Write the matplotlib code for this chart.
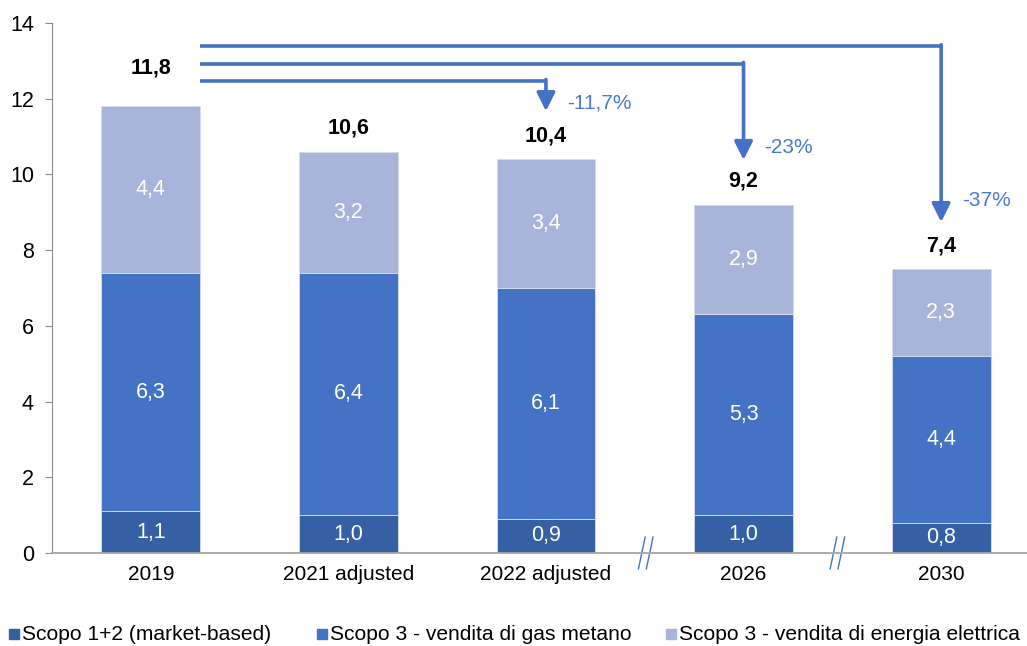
import numpy as np
import matplotlib.pyplot as plt
from matplotlib.patches import Rectangle
from matplotlib.lines import Line2D

plt.rcParams['font.family'] = ['Liberation Sans', 'DejaVu Sans']

# Emissions by scope (MtCO2e)
years = ['2019', '2021 adjusted', '2022 adjusted', '2026', '2030']
scope12 = [1.1, 1.0, 0.9, 1.0, 0.8]
scope3_gas = [6.3, 6.4, 6.1, 5.3, 4.4]
scope3_power = [4.4, 3.2, 3.4, 2.9, 2.3]
totals = [11.8, 10.6, 10.4, 9.2, 7.4]

# reductions vs 2019: (target index, label)
cuts = [(2, '-11,7%'), (3, '-23%'), (4, '-37%')]

legend_labels = ['Scopo 1+2 (market-based)', 'Scopo 3 - vendita di gas metano',
                 'Scopo 3 - vendita di energia elettrica']

c_dark = '#3560A3'
c_mid = '#4472C4'
c_light = '#A8B5DA'
c_arrow = '#4472C4'

fig = plt.figure(figsize=(10.27, 6.46), dpi=100)
ax = fig.add_axes([0.0506, 0.144, 0.962, 0.8205])

x = np.arange(len(years))
w = 0.5
s12 = np.array(scope12)
sg = np.array(scope3_gas)
sp = np.array(scope3_power)

ax.bar(x, s12, w, color=c_dark, edgecolor='#D5DCEE', linewidth=0.6)
ax.bar(x, sg, w, bottom=s12, color=c_mid, edgecolor='#D5DCEE', linewidth=0.6)
ax.bar(x, sp, w, bottom=s12 + sg, color=c_light, edgecolor='#D5DCEE', linewidth=0.6)

def fmt(v):
    return f'{v:.1f}'.replace('.', ',')

for i in range(len(years)):
    ax.text(x[i], s12[i] / 2, fmt(s12[i]), ha='center', va='center',
            color='white', fontsize=15.5)
    ax.text(x[i], s12[i] + sg[i] / 2, fmt(sg[i]), ha='center', va='center',
            color='white', fontsize=15.5)
    ax.text(x[i], s12[i] + sg[i] + sp[i] / 2, fmt(sp[i]), ha='center',
            va='center', color='white', fontsize=15.5)
    top = s12[i] + sg[i] + sp[i]
    ty = 12.8 if i == 0 else top + 0.62
    ax.text(x[i], ty, fmt(totals[i]), ha='center', va='center',
            color='black', fontsize=15.5, fontweight='bold')

# elbow arrows from the 2019 bar to the later years
start_x = x[0] + w / 2
levels = [12.47, 12.92, 13.39]
tips = [11.67, 10.38, 8.74]
label_y = [11.89, 10.70, 9.32]
for (j, lab), yl, tip, ly in zip(cuts, levels, tips, label_y):
    ax.plot([start_x, x[j]], [yl, yl], color=c_arrow, lw=2.6,
            solid_capstyle='butt', clip_on=False)
    ax.annotate('', xy=(x[j], tip), xytext=(x[j], yl + 0.035),
                arrowprops=dict(arrowstyle='-|>,head_length=1.1,head_width=0.55',
                                color=c_arrow, lw=2.6, shrinkA=0, shrinkB=0))
    ax.text(x[j] + 0.105, ly, lab, ha='left', va='center',
            color='#4A7BD0', fontsize=15)

# axis break marks between non-consecutive years
for bx in [2.505, 3.475]:
    for dx in [-0.02, 0.02]:
        ax.add_line(Line2D([bx + dx - 0.017, bx + dx + 0.017], [-0.42, 0.42],
                           color=c_arrow, lw=1.0, clip_on=False))

ax.set_xlim(-0.5, 4.5)
ax.set_ylim(0, 14)
ax.set_yticks(np.arange(0, 15, 2))
ax.set_xticks(x)
ax.set_xticklabels(years, fontsize=15)
ax.tick_params(axis='y', labelsize=15.5, length=5, color='#8C8C8C', pad=8)
ax.tick_params(axis='x', length=0, pad=9)
for side in ['top', 'right']:
    ax.spines[side].set_visible(False)
ax.spines['left'].set_color('#8C8C8C')
ax.spines['bottom'].set_color('#A6A6A6')
ax.spines['bottom'].set_linewidth(1.3)

# legend row along the bottom edge
W, H = 1027, 646
for px, col, lab in zip([9, 317, 666], [c_dark, c_mid, c_light], legend_labels):
    fig.patches.append(Rectangle((px / W, 7 / H), 10 / W, 10 / H,
                                 transform=fig.transFigure, color=col))
    fig.text((px + 13) / W, 12 / H, lab, ha='left', va='center', fontsize=15.1)

fig.savefig('out.png', dpi=100)
